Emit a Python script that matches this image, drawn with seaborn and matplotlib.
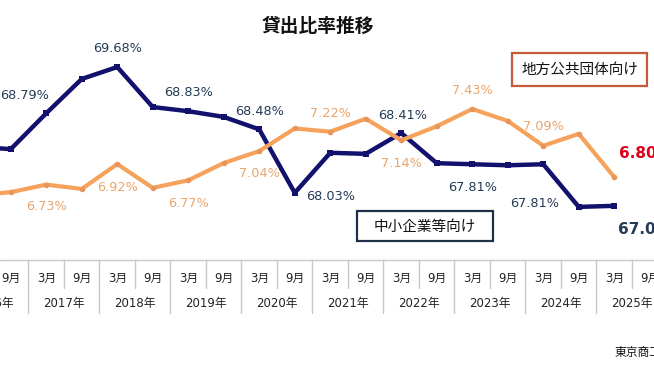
import numpy as np
import pandas as pd
import seaborn as sns
import matplotlib.pyplot as plt
from matplotlib.patches import Rectangle

years = [2016, 2017, 2018, 2019, 2020, 2021, 2022, 2023, 2024, 2025]
months = ['3月', '9月']

sme = [68.15, 68.10, 68.79, 69.45, 69.68, 68.91, 68.83, 68.72, 68.48, 67.26,
       68.03, 68.01, 68.41, 67.83, 67.81, 67.79, 67.81, 66.99, 67.01, np.nan]
gov = [6.63, 6.66, 6.73, 6.69, 6.92, 6.70, 6.77, 6.93, 7.04, 7.25,
       7.22, 7.34, 7.14, 7.27, 7.43, 7.32, 7.09, 7.20, 6.80, np.nan]

sme_name = '中小企業等向け'
gov_name = '地方公共団体向け'
title = '貸出比率推移'
source = '東京商工リサーチ調べ'

NAVY = '#12126e'
NAVY_TXT = '#243a56'
ORANGE = '#f5a25c'
ORANGE_TXT = '#eaa56c'
RED = '#e0001b'

df = pd.DataFrame({
    'i': np.arange(len(sme)),
    'year': np.repeat(years, 2),
    'month': months * len(years),
    'sme': sme,
    'gov': gov,
})

sns.set_style('white')
plt.rcParams['font.family'] = ['DejaVu Sans', 'Noto Sans CJK JP']

W, H = 654, 368
fig = plt.figure(figsize=(W / 100, H / 100), dpi=100)
ax = fig.add_axes([0, 0, 1, 1])
ax2 = ax.twinx()

# category i sits at pixel -24.75 + 35.5 * i
step, x0 = 35.5, -24.75
ax.set_xlim((0 - x0) / step, (W - x0) / step)
ax.set_ylim(69.68 - (H - 67) / 52, 69.68 + 67 / 52)
ax2.set_ylim(7.43 - (H - 109) / 108, 7.43 + 109 / 108)

sns.lineplot(data=df, x='i', y='sme', ax=ax, color=NAVY, lw=3.2, marker='s',
             markersize=5, markeredgewidth=0, markerfacecolor=NAVY)
sns.lineplot(data=df, x='i', y='gov', ax=ax2, color=ORANGE, lw=3, marker='o',
             markersize=4, markeredgewidth=0, markerfacecolor='#e9945a')

for a in (ax, ax2):
    a.set_axis_off()

# data labels on March points from 2017 on
sme_off = [(-21.5, 18), (0, 19), (0, 19), (0, 18), (0, -44), (1, 18), (0, -23), (-9, -39)]
gov_off = [(0, -22), (0, -23), (0, -23), (0, -22), (0, 18), (0, -23), (0, 18), (0, 19)]
march = df[(df['month'] == '3月') & (df['year'] >= 2017)].dropna()
for k, (_, r) in enumerate(march.iterrows()):
    if k < len(sme_off):
        ax.annotate(f"{r['sme']:.2f}%", (r['i'], r['sme']), xytext=sme_off[k],
                    textcoords='offset pixels', ha='center', va='center',
                    fontsize=9.3, color=NAVY_TXT)
        ax2.annotate(f"{r['gov']:.2f}%", (r['i'], r['gov']), xytext=gov_off[k],
                     textcoords='offset pixels', ha='center', va='center',
                     fontsize=9.3, color=ORANGE_TXT)
    else:
        ax.annotate(f"{r['sme']:.2f}%", (r['i'], r['sme']), xytext=(4, -24),
                    textcoords='offset pixels', ha='left', va='center',
                    fontsize=11, fontweight='bold', color=NAVY_TXT, annotation_clip=False)
        ax2.annotate(f"{r['gov']:.2f}%", (r['i'], r['gov']), xytext=(5, 24),
                     textcoords='offset pixels', ha='left', va='center',
                     fontsize=11, fontweight='bold', color=RED, annotation_clip=False)

# category axis drawn by hand: two-level labels with separators
tr = ax.get_xaxis_transform()
fy = lambda py: 1 - py / H
ax.axhline(69.68 - (260 - 67) / 52, color='#c8c8c8', lw=1)
for _, r in df.iterrows():
    ax.text(r['i'], fy(278), r['month'], transform=tr, ha='center', va='center',
            fontsize=8.5, color='#222222')
    if r['month'] == '3月':
        ax.plot([r['i'] + 0.5] * 2, [fy(260), fy(288)], transform=tr,
                color='#c8c8c8', lw=1)
        ax.text(r['i'] + 0.5, fy(303), f"{r['year']}年", transform=tr,
                ha='center', va='center', fontsize=8.5, color='#222222')
    else:
        ax.plot([r['i'] + 0.5] * 2, [fy(260), fy(313)], transform=tr,
                color='#c8c8c8', lw=1)

# title, legend boxes, source
fig.text(318 / W, fy(26), title, ha='center', va='center', fontsize=13.5,
         fontweight='bold', color='#111111')


def box(x1, y1, x2, y2, text, ec):
    fig.add_artist(Rectangle((x1 / W, fy(y2)), (x2 - x1) / W, (y2 - y1) / H,
                             transform=fig.transFigure, fill=True, fc='white',
                             ec=ec, lw=1.6, zorder=5))
    fig.text((x1 + x2) / 2 / W, fy((y1 + y2) / 2), text, ha='center', va='center',
             fontsize=10.5, color='#111111', zorder=6)


box(512, 53, 647, 86, gov_name, '#c55a3a')
box(357, 211, 493, 241, sme_name, '#1f3148')

fig.text(615 / W, fy(352), source, ha='left', va='center', fontsize=8.5,
         color='#111111')

fig.savefig('out.png', dpi=100)
